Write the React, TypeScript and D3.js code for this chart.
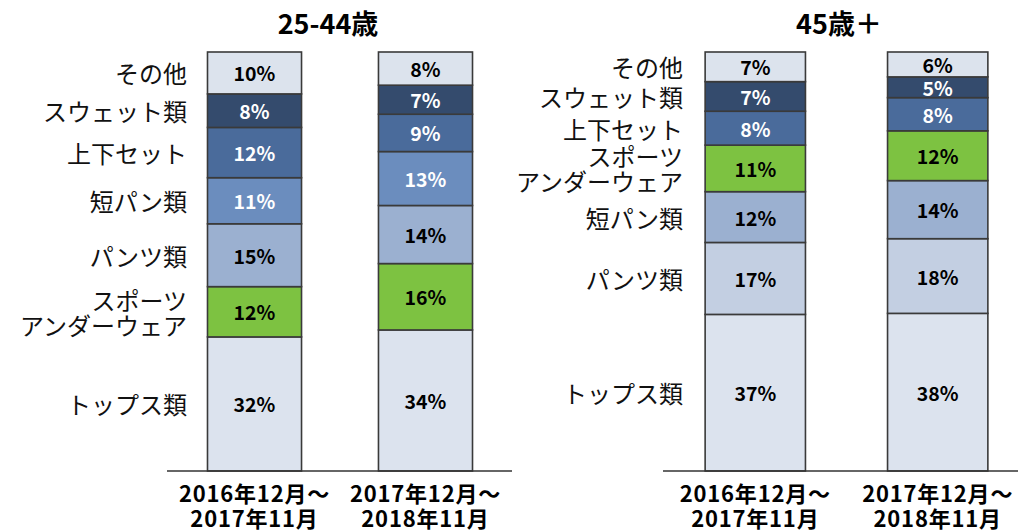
import React from "react";
import * as d3 from "d3";

// ---- Data ----
const periods = ["2016年12月～\n2017年11月", "2017年12月～\n2018年11月"];

// stacking order bottom -> top
const youngCategories = ["トップス類", "スポーツ\nアンダーウェア", "パンツ類", "短パン類", "上下セット", "スウェット類", "その他"];
const young2017 = [32, 12, 15, 11, 12, 8, 10];
const young2018 = [34, 16, 14, 13, 9, 7, 8];
const youngColors = ["#DCE3EE", "#7DC241", "#9BB0D0", "#6B8DBE", "#4A6B9B", "#344B6D", "#DCE3ED"];
const youngTextColors = ["#000", "#000", "#000", "#fff", "#fff", "#fff", "#000"];

const seniorCategories = ["トップス類", "パンツ類", "短パン類", "スポーツ\nアンダーウェア", "上下セット", "スウェット類", "その他"];
const senior2017 = [37, 17, 12, 11, 8, 7, 7];
const senior2018 = [38, 18, 14, 12, 8, 5, 6];
const seniorColors = ["#DCE3EE", "#C3CFE2", "#9BB0D0", "#7DC241", "#4A6B9B", "#344B6D", "#DCE3ED"];
const seniorTextColors = ["#000", "#000", "#000", "#000", "#fff", "#fff", "#000"];

const titles = ["25-44歳", "45歳＋"];

const FONT = "'Noto Sans CJK JP', 'Noto Sans', sans-serif";

type PanelProps = {
  title: string;
  categories: string[];
  series: number[][];
  colors: string[];
  textColors: string[];
  range: [number, number];
  axisRange: [number, number];
  labelX: number;
  titleX: number;
};

function Panel({ title, categories, series, colors, textColors, range, axisRange, labelX, titleX }: PanelProps) {
  const x = d3.scaleBand<string>().domain(periods).range(range).paddingInner(0.45).paddingOuter(0.231);
  const yTop = 52;
  const yBottom = 471;

  const bars = series.map((vals) => {
    const total = d3.sum(vals);
    const y = d3.scaleLinear().domain([0, total]).range([yBottom, yTop]);
    const stack = d3.stack<any>().keys(vals.map((_, i) => String(i)))([Object.fromEntries(vals.map((v, i) => [String(i), v]))]);
    return { y, segs: stack.map((s, i) => ({ i, y0: s[0][0], y1: s[0][1], v: vals[i] })) };
  });

  const first = bars[0];

  return (
    <g>
      <text x={titleX} y={22} textAnchor="middle" dominantBaseline="central" fontFamily={FONT} fontWeight={700} fontSize={27} fill="#000">
        {title}
      </text>
      {bars.map((b, bi) => (
        <g key={bi}>
          {b.segs.map((s) => {
            const x0 = x(periods[bi])!;
            const bw = x.bandwidth();
            const yA = b.y(s.y1);
            const yB = b.y(s.y0);
            return (
              <g key={s.i}>
                <rect x={x0} y={yA} width={bw} height={yB - yA} fill={colors[s.i]} stroke="#3a3a3a" strokeWidth={1.6} />
                <text x={x0 + bw / 2} y={(yA + yB) / 2} textAnchor="middle" dominantBaseline="central" fontFamily={FONT} fontWeight={700} fontSize={19.5} fill={textColors[s.i]}>
                  {`${s.v}%`}
                </text>
              </g>
            );
          })}
        </g>
      ))}
      <line x1={axisRange[0]} x2={axisRange[1]} y1={yBottom} y2={yBottom} stroke="#333" strokeWidth={1.6} />
      {first.segs.map((s) => {
        const cy = (first.y(s.y0) + first.y(s.y1)) / 2;
        const lines = categories[s.i].split("\n");
        return (
          <text key={s.i} x={labelX} textAnchor="end" fontFamily={FONT} fontWeight={400} fontSize={24} fill="#111">
            {lines.map((ln, li) => (
              <tspan key={li} x={labelX} y={cy + (li - (lines.length - 1) / 2) * 25} dominantBaseline="central">
                {ln}
              </tspan>
            ))}
          </text>
        );
      })}
      {periods.map((p, pi) => {
        const cx = x(p)! + x.bandwidth() / 2;
        return (
          <text key={pi} textAnchor="middle" fontFamily={FONT} fontWeight={700} fontSize={22} letterSpacing={0.8} fill="#000">
            {p.split("\n").map((ln, li) => (
              <tspan key={li} x={cx} y={492 + li * 25} dominantBaseline="central">
                {ln}
              </tspan>
            ))}
          </text>
        );
      })}
    </g>
  );
}

export default function App() {
  return (
    <div style={{ position: "fixed", left: 0, top: 0 }}>
      <svg width={1018} height={531} style={{ display: "block", background: "#fff" }}>
        <Panel
          title={titles[0]}
          categories={youngCategories}
          series={[young2017, young2018]}
          colors={youngColors}
          textColors={youngTextColors}
          range={[168, 512]}
          axisRange={[167, 512]}
          labelX={187}
          titleX={328}
        />
        <Panel
          title={titles[1]}
          categories={seniorCategories}
          series={[senior2017, senior2018]}
          colors={seniorColors}
          textColors={seniorTextColors}
          range={[663, 1030]}
          axisRange={[663, 1018]}
          labelX={683}
          titleX={839}
        />
      </svg>
    </div>
  );
}
